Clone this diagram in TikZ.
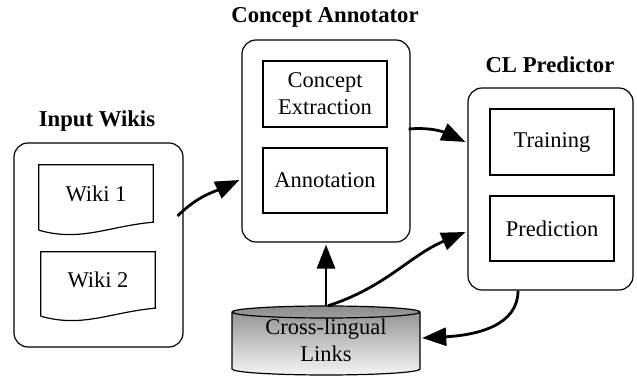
\documentclass[tikz,border=0pt]{standalone}
\usepackage{fontspec}
\setmainfont{Liberation Serif}
\usetikzlibrary{arrows.meta,calc}
\begin{document}
\begin{tikzpicture}[x=1pt,y=1pt,
  txt/.style={font=\fontsize{22.5}{27}\selectfont, align=center, inner sep=0pt},
  ttl/.style={font=\fontsize{22.7}{26}\selectfont\bfseries, inner sep=0pt},
  outer/.style={draw, line width=1.2pt, rounded corners=14pt, inner sep=0pt},
  inner/.style={draw, line width=1.2pt, txt},
  doc/.style={txt, minimum width=114pt},
  conn/.style={line width=2.8pt, -{Triangle[length=24pt,width=18pt]}}
]
\useasboundingbox (0,0) rectangle (637,379);

% Input Wikis
\node[outer, minimum width=169pt, minimum height=204pt] (in) at (98.5,134) {};
\node[ttl] (tin) at (97,258) {Input Wikis};
\node[doc, minimum height=57pt] (w1) at (96,185.5) {Wiki 1};
\node[doc, minimum height=56pt] (w2) at (98,99) {Wiki 2};
\foreach \d in {w1,w2}{
  \draw[line width=1.2pt] ($(\d.south west)+(0,-8)$) -- (\d.north west) -- (\d.north east) -- (\d.south east)
    .. controls +(-45,-4) and +(42,-12) .. ($(\d.south west)+(0,-8)$);
}

% Concept Annotator
\node[outer, minimum width=168pt, minimum height=202pt] (ca) at (326,238) {};
\node[ttl] (tca) at (325,362) {Concept Annotator};
\node[inner, minimum width=124pt, minimum height=66pt] (ce) at (325,285) {Concept\\Extraction};
\node[inner, minimum width=124pt, minimum height=65pt] (an) at (325,198.5) {Annotation};

% CL Predictor
\node[outer, minimum width=165pt, minimum height=202pt] (clp) at (550.5,190) {};
\node[ttl] (tclp) at (550,314) {CL Predictor};
\node[inner, minimum width=124pt, minimum height=66pt] (tr) at (552,237) {Training};
\node[inner, minimum width=124pt, minimum height=65pt] (pr) at (552,150.5) {Prediction};

% Cross-lingual Links cylinder
\path[top color=black!45, bottom color=black!4, draw, line width=1.2pt]
  (232,67) -- (232,10) arc[start angle=180, end angle=360, x radius=94, y radius=6]
  -- (420,67) arc[start angle=0, end angle=180, x radius=94, y radius=6] -- cycle;
\draw[line width=1.2pt] (232,67) arc[start angle=180, end angle=360, x radius=94, y radius=6];
\node[txt, minimum width=188pt, minimum height=57pt] (cyl) at (326,38.5) {Cross-lingual\\Links};

% connectors
\draw[conn] ([xshift=-6pt,yshift=29pt]in.east) to[out=45,in=205] ([xshift=-2pt,yshift=-39pt]ca.west);
\draw[conn] ([xshift=-2pt,yshift=12pt]ca.east) to[out=5,in=155] ([xshift=-2pt,yshift=47pt]clp.west);
\draw[conn] ([yshift=6pt]cyl.north) -- ([yshift=-2pt]ca.south);
\draw[conn] ([xshift=2pt,yshift=6pt]cyl.north) to[out=18,in=203] ([xshift=-2pt,yshift=-43pt]clp.west);
\draw[conn] ([xshift=-32.5pt]clp.south) to[out=-90,in=3,out distance=35pt,in distance=55pt] ([xshift=2pt,yshift=2.5pt]cyl.east);
\end{tikzpicture}
\end{document}
